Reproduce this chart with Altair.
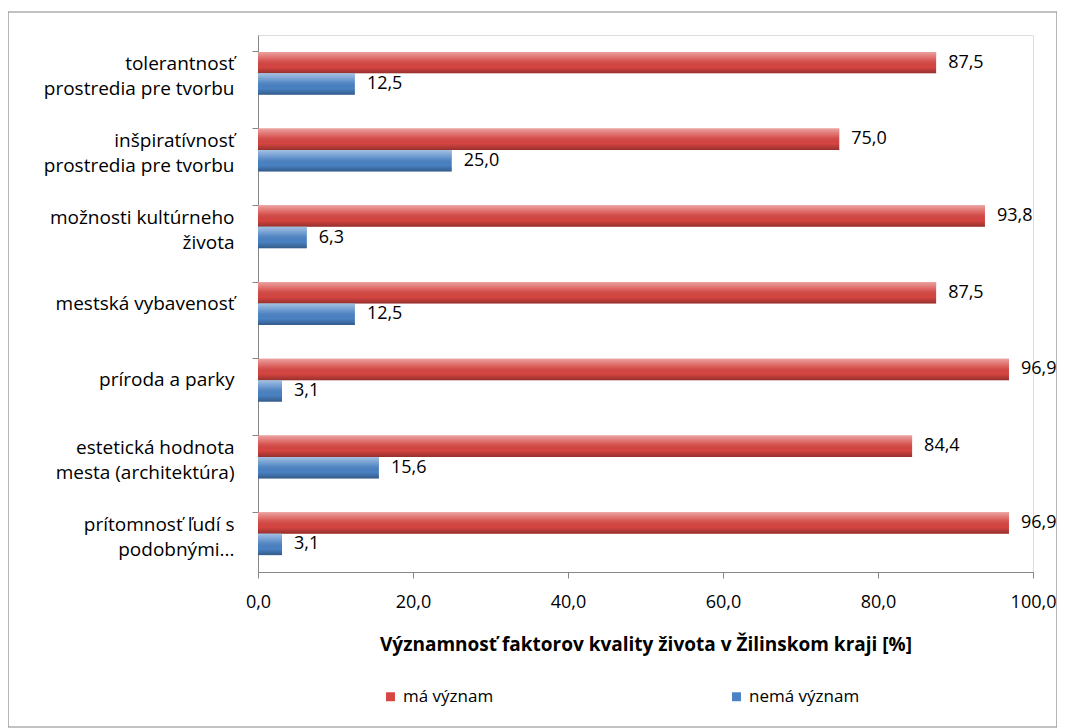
import altair as alt
import pandas as pd

categories = [
    "tolerantnosť|prostredia pre tvorbu",
    "inšpiratívnosť|prostredia pre tvorbu",
    "možnosti kultúrneho|života",
    "mestská vybavenosť",
    "príroda a parky",
    "estetická hodnota|mesta (architektúra)",
    "prítomnosť ľudí s|podobnými...",
]
series = ["má význam", "nemá význam"]
ma_vyznam = [87.5, 75.0, 93.8, 87.5, 96.9, 84.4, 96.9]
nema_vyznam = [12.5, 25.0, 6.3, 12.5, 3.1, 15.6, 3.1]
x_ticks = [0, 20, 40, 60, 80, 100]

rows = []
for c, a, b in zip(categories, ma_vyznam, nema_vyznam):
    rows.append({"kategoria": c, "seria": series[0], "hodnota": a})
    rows.append({"kategoria": c, "seria": series[1], "hodnota": b})
df = pd.DataFrame(rows)

FONT = "Open Sans"
RED = "#d64541"
BLUE = "#4a82c4"

base = alt.Chart(df).transform_calculate(
    popis="replace(format(datum.hodnota, '.1f'), '.', ',')"
)

y_enc = alt.Y(
    "kategoria:N",
    sort=categories,
    scale=alt.Scale(paddingInner=0.44, paddingOuter=0.22),
    axis=alt.Axis(
        title=None,
        labelExpr="split(datum.value, '|')",
        labelFont=FONT,
        labelFontSize=19,
        labelColor="#000000",
        labelLineHeight=25,
        labelPadding=18,
        labelLimit=300,
        labelOffset={"condition": {"test": "indexof(datum.value, '|') >= 0", "value": -9}, "value": 0},
        bandPosition=0,
        tickSize=6,
        tickColor="#868686",
        domainColor="#868686",
        grid=False,
    ),
)
yoff = alt.YOffset("seria:N", sort=series, scale=alt.Scale(paddingInner=0, paddingOuter=0))
x_enc = alt.X(
    "hodnota:Q",
    scale=alt.Scale(domain=[0, 100], nice=False),
    axis=alt.Axis(
        values=x_ticks,
        labelExpr="replace(format(datum.value, '.1f'), '.', ',')",
        title="Významnosť faktorov kvality života v Žilinskom kraji [%]",
        titleFont=FONT,
        titleFontSize=19,
        titleFontWeight="bold",
        titleColor="#000000",
        titlePadding=24,
        labelFont=FONT,
        labelFontSize=18,
        labelColor="#000000",
        labelPadding=15,
        tickSize=6,
        tickColor="#868686",
        domainColor="#868686",
        grid=False,
        labelFlush=False,
    ),
)

bars = base.mark_bar().encode(
    y=y_enc,
    yOffset=yoff,
    x=x_enc,
    color=alt.Color(
        "seria:N",
        sort=series,
        scale=alt.Scale(domain=series, range=[RED, BLUE]),
        legend=alt.Legend(
            title=None,
            orient="none",
            legendX=124,
            legendY=653,
            direction="horizontal",
            symbolType="square",
            symbolSize=80,
            symbolStrokeWidth=0,
            labelFont=FONT,
            labelFontSize=17,
            labelColor="#000000",
            labelOffset=4,
            columnPadding=234,
        ),
    ),
)

shine = base.mark_bar(
    fill=alt.Gradient(
        gradient="linear",
        x1=0, y1=0, x2=0, y2=1,
        stops=[
            alt.GradientStop(offset=0, color="rgba(255,255,255,0.5)"),
            alt.GradientStop(offset=0.35, color="rgba(255,255,255,0.15)"),
            alt.GradientStop(offset=0.7, color="rgba(0,0,0,0.0)"),
            alt.GradientStop(offset=1, color="rgba(0,0,0,0.30)"),
        ],
    )
).encode(y=alt.Y("kategoria:N", sort=categories), yOffset=yoff, x=alt.X("hodnota:Q"))

labels = base.mark_text(
    align="left", baseline="middle", dx=12, font=FONT, fontSize=18, color="#000000"
).encode(y=alt.Y("kategoria:N", sort=categories), yOffset=yoff, x=alt.X("hodnota:Q"), text="popis:N")

frame = alt.Chart(alt.Data(values=[{"a": 1}])).mark_rect(
    fill="transparent", stroke="#868686", strokeWidth=1.2
).encode(
    x=alt.value(-250), x2=alt.value(799), y=alt.value(-23), y2=alt.value(692)
)

chart = alt.layer(frame, bars, shine, labels).properties(
    width=775,
    height=537,
    autosize=alt.AutoSizeParams(type="none"),
    padding={"left": 250, "top": 27, "right": 24, "bottom": 156},
).configure_view(stroke=None).configure(background="white")

chart.save("out.html", embed_options={"renderer": "svg", "actions": False})
